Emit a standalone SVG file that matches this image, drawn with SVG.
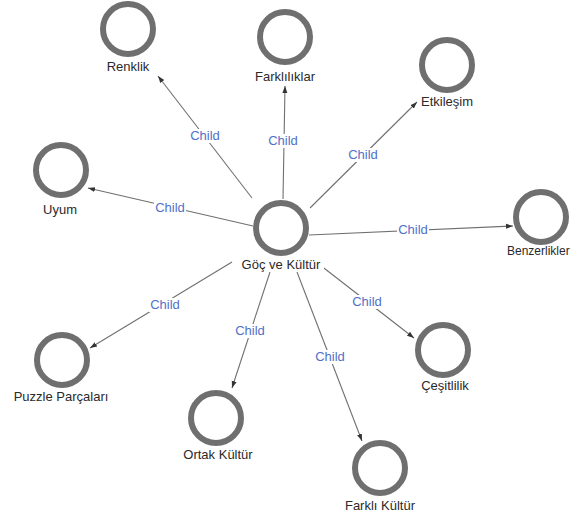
<svg xmlns="http://www.w3.org/2000/svg" width="573" height="517" viewBox="0 0 573 517">
  <style>
    .ring { fill: #ffffff; stroke: #6f6f6f; stroke-width: 6; }
    .name { font-family: "Liberation Sans", Arial, sans-serif; font-size: 13px; fill: #2a2a2a; text-anchor: middle; }
    .edge { stroke: #707070; stroke-width: 1.1; fill: none; marker-end: url(#arrow); }
    .tag-bg { fill: #ffffff; }
    .tag { font-family: "Liberation Sans", Arial, sans-serif; font-size: 13px; fill: #5070c8; text-anchor: middle; }
  </style>
  <defs>
    <marker id="arrow" markerUnits="userSpaceOnUse" markerWidth="7" markerHeight="7" viewBox="0 0 7 7" refX="7" refY="3.5" orient="auto">
      <path d="M0,1 L7,3.5 L0,6 Z" fill="#333333"/>
    </marker>
  </defs>
  <rect width="573" height="517" fill="#ffffff"/>

  <!-- connectors from the root node to each child -->
  <g id="connectors">
    <line class="edge" x1="252" y1="198" x2="158" y2="76"/>
    <line class="edge" x1="283" y1="199" x2="285" y2="86"/>
    <line class="edge" x1="310" y1="208" x2="417" y2="102"/>
    <line class="edge" x1="253" y1="226" x2="88" y2="188"/>
    <line class="edge" x1="309" y1="235" x2="513" y2="226"/>
    <line class="edge" x1="232" y1="262" x2="90" y2="348"/>
    <line class="edge" x1="270" y1="272" x2="232" y2="388"/>
    <line class="edge" x1="297" y1="272" x2="362" y2="441"/>
    <line class="edge" x1="320" y1="265" x2="414" y2="338"/>

    <g id="edge-labels">
      <rect class="tag-bg" x="189" y="129" width="32" height="14"/>
      <text class="tag" x="205" y="140">Child</text>
      <rect class="tag-bg" x="267" y="134" width="32" height="14"/>
      <text class="tag" x="283" y="145">Child</text>
      <rect class="tag-bg" x="347" y="148" width="32" height="14"/>
      <text class="tag" x="363" y="159">Child</text>
      <rect class="tag-bg" x="154" y="201" width="32" height="14"/>
      <text class="tag" x="170" y="212">Child</text>
      <rect class="tag-bg" x="397" y="223" width="32" height="14"/>
      <text class="tag" x="413" y="234">Child</text>
      <rect class="tag-bg" x="149" y="298" width="32" height="14"/>
      <text class="tag" x="165" y="309">Child</text>
      <rect class="tag-bg" x="234" y="324" width="32" height="14"/>
      <text class="tag" x="250" y="335">Child</text>
      <rect class="tag-bg" x="314" y="350" width="32" height="14"/>
      <text class="tag" x="330" y="361">Child</text>
      <rect class="tag-bg" x="351" y="295" width="32" height="14"/>
      <text class="tag" x="367" y="306">Child</text>
    </g>
  </g>

  <!-- nodes -->
  <g id="node-root">
    <circle class="ring" cx="281" cy="228" r="25"/>
    <rect class="tag-bg" x="237" y="258" width="87" height="14"/>
    <text class="name" x="281" y="269">Göç ve Kültür</text>
  </g>
  <g id="node-renklik">
    <circle class="ring" cx="128" cy="29" r="25"/>
    <text class="name" x="128" y="71">Renklik</text>
  </g>
  <g id="node-farkliliklar">
    <circle class="ring" cx="285" cy="37" r="25"/>
    <text class="name" x="285" y="81">Farklılıklar</text>
  </g>
  <g id="node-etkilesim">
    <circle class="ring" cx="447" cy="65" r="25"/>
    <text class="name" x="447" y="106">Etkileşim</text>
  </g>
  <g id="node-uyum">
    <circle class="ring" cx="61" cy="170" r="25"/>
    <text class="name" x="60" y="214">Uyum</text>
  </g>
  <g id="node-benzerlikler">
    <circle class="ring" cx="541" cy="217" r="25"/>
    <text class="name" x="507" y="255" style="text-anchor:start;font-size:12px">Benzerlikler</text>
  </g>
  <g id="node-puzzle">
    <circle class="ring" cx="62" cy="360" r="25"/>
    <text class="name" x="61" y="401">Puzzle Parçaları</text>
  </g>
  <g id="node-ortak">
    <circle class="ring" cx="216" cy="418" r="25"/>
    <text class="name" x="218" y="459">Ortak Kültür</text>
  </g>
  <g id="node-farkli">
    <circle class="ring" cx="380" cy="468" r="25"/>
    <text class="name" x="380" y="510">Farklı Kültür</text>
  </g>
  <g id="node-cesitlilik">
    <circle class="ring" cx="443" cy="350" r="25"/>
    <text class="name" x="445" y="390">Çeşitlilik</text>
  </g>
</svg>
